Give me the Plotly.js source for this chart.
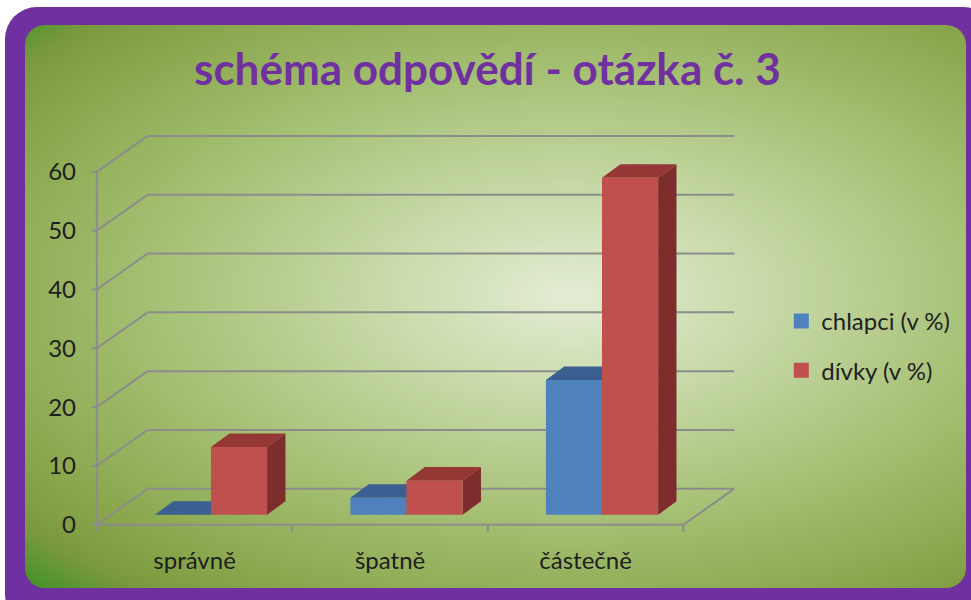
<!DOCTYPE html>
<html>
<head>
<meta charset="utf-8">
<script src="https://cdn.plot.ly/plotly-3.0.1.min.js"></script>
<style>
  html, body { margin:0; padding:0; background:#ffffff; width:971px; height:600px; overflow:hidden; }
  #frame { position:absolute; left:5px; top:7px; width:990px; height:620px; background:#7030a0; border-radius:32px; }
  #inner { position:absolute; left:25px; top:25px; width:941px; height:563px; border-radius:20px;
    background: radial-gradient(ellipse farthest-corner at 58% 48%, #e3edd4 0%, #c4d7a3 28%, #a4bf72 55%, #8ba84f 78%, #7b993c 90%, #3e9328 100%); }
  #chart { position:absolute; left:0; top:0; width:971px; height:600px; }
</style>
</head>
<body>
<div id="frame"></div>
<div id="inner"></div>
<div id="chart"></div>
<script>
// ---- data ----
const categories = ['správně', 'špatně', 'částečně'];
const chlapci = [0, 2.9, 22.9];
const divky = [11.5, 5.8, 57.3];
const seriesNames = ['chlapci (v %)', 'dívky (v %)'];
const yTicks = [0, 10, 20, 30, 40, 50, 60];

// ---- styles / geometry (oblique 3D projection in data units) ----
const DX = 0.26, DY = 6.11;      // wall depth
const FX = 0.072, FY = 1.70;     // bar front plane offset
const BX = 0.094, BY = 2.3;      // bar depth
const BW = 0.287, START = 0.225; // bar width, gap before first bar
const GRID = '#8c8c8c';
const colors = {
  front: ['#4f81bd', '#c0504d'],
  top:   ['#3a5f90', '#953735'],
  side:  ['#2f4e78', '#7d2e2c']
};

const N = categories.length;
const traces = [];
function lineTrace(xs, ys, color, width) {
  return { type:'scatter', mode:'lines', x:xs, y:ys, line:{color:color, width:width},
           hoverinfo:'skip', showlegend:false };
}
// back wall gridlines + left wall diagonals
let gx = [], gy = [], wx = [], wy = [];
yTicks.forEach(v => {
  gx.push(DX, N + DX, null); gy.push(v + DY, v + DY, null);
  wx.push(0, DX, null); wy.push(v, v + DY, null);
});
traces.push(lineTrace(gx, gy, GRID, 2));
traces.push(lineTrace(wx, wy, GRID, 2));
// floor front + right edge, front vertical axis
traces.push(lineTrace([0, N, N + DX], [0, 0, DY], GRID, 2));
traces.push(lineTrace([0, 0], [0, yTicks[yTicks.length - 1]], GRID, 2));
// tick marks
let tx = [], ty = [];
yTicks.forEach(v => { tx.push(-0.026, 0, null); ty.push(v, v, null); });
for (let i = 0; i <= N; i++) { tx.push(i, i, null); ty.push(0, -1.2, null); }
traces.push(lineTrace(tx, ty, GRID, 2));

// bars
const series = [chlapci, divky];
series.forEach((vals, s) => {
  let fx = [], fy = [], px = [], py = [], sx = [], sy = [];
  vals.forEach((v, i) => {
    const x0 = i + FX + START + s * BW, x1 = x0 + BW;
    const y0 = FY, y1 = FY + v;
    fx.push(x0, x1, x1, x0, x0, null); fy.push(y0, y0, y1, y1, y0, null);
    px.push(x0, x1, x1 + BX, x0 + BX, x0, null); py.push(y1, y1, y1 + BY, y1 + BY, y1, null);
    sx.push(x1, x1 + BX, x1 + BX, x1, x1, null); sy.push(y0, y0 + BY, y1 + BY, y1, y0, null);
  });
  const poly = (xs, ys, c) => ({ type:'scatter', mode:'lines', x:xs, y:ys, fill:'toself',
    fillcolor:c, line:{width:0, color:c}, hoverinfo:'skip', showlegend:false });
  traces.push(poly(sx, sy, colors.side[s]));
  traces.push(poly(px, py, colors.top[s]));
  traces.push(poly(fx, fy, colors.front[s]));
});
// legend entries
seriesNames.forEach((name, s) => {
  traces.push({ type:'scatter', mode:'markers', x:[null], y:[null], name:name, legendgroup:'g' + s,
    marker:{symbol:'square', size:15, color:colors.front[s]}, hoverinfo:'skip' });
});

const FONT = 'Lato, "Open Sans", sans-serif';
const layout = {
  width: 971, height: 600,
  paper_bgcolor: 'rgba(0,0,0,0)', plot_bgcolor: 'rgba(0,0,0,0)',
  margin: { l: 87.2, r: 229.2, t: 132.7, b: 66.8, autoexpand: false },
  hovermode: false,
  title: { text: 'schéma odpovědí - otázka č. 3', x: 0.502, xref: 'container', y: 0.884, yref: 'container',
           yanchor: 'middle', font: { family: FONT, size: 44, color: '#7030a0', weight: 'bold' } },
  font: { family: FONT, color: '#1e1e1e' },
  xaxis: { range: [-0.05, 3.30], showgrid: false, zeroline: false, showline: false, ticks: '',
           tickmode: 'array', tickvals: categories.map((c, i) => i + 0.5), ticktext: categories,
           tickfont: { size: 24, color: '#1e1e1e' }, ticklabelstandoff: 11, fixedrange: true },
  yaxis: { range: [-1.4, 66.6], showgrid: false, zeroline: false, showline: false, ticks: '',
           tickmode: 'array', tickvals: yTicks, ticktext: yTicks.map(String),
           tickfont: { size: 24, color: '#1e1e1e' }, ticklabelstandoff: 10, fixedrange: true },
  showlegend: true,
  legend: { x: 1.06, xanchor: 'left', y: 0.585, yanchor: 'top', bgcolor: 'rgba(0,0,0,0)',
            font: { size: 24, color: '#1e1e1e' }, tracegroupgap: 15, itemwidth: 30 }
};
Plotly.newPlot('chart', traces, layout, { staticPlot: true, displayModeBar: false });
</script>
</body>
</html>
